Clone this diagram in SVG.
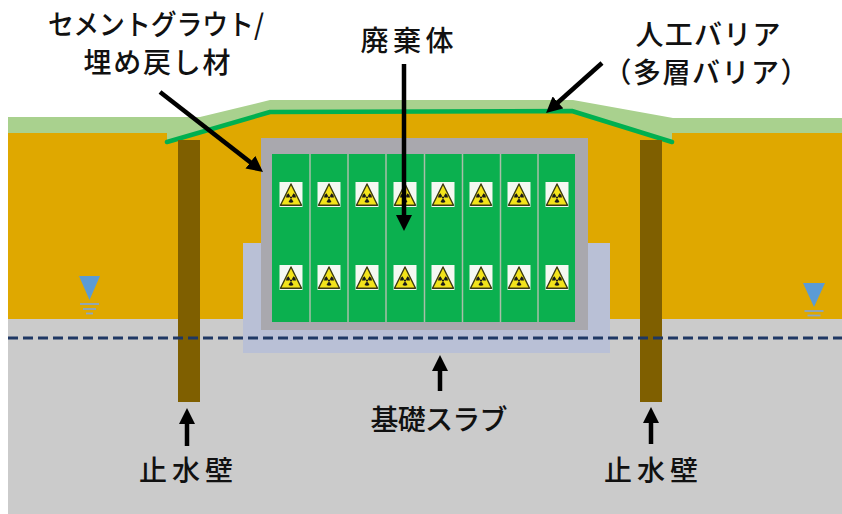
<svg xmlns="http://www.w3.org/2000/svg" xmlns:xlink="http://www.w3.org/1999/xlink" width="842" height="514" viewBox="0 0 842 514">
  <style>
    .lbl { font-family: "Noto Sans CJK JP", "Noto Sans", sans-serif; font-size: 28px; font-weight: 500; fill: #111; text-anchor: middle; }
    .wall { fill: #7F5F00; }
    .slot { stroke: #A9BFA9; stroke-width: 1.5; }
    .wl-tri { fill: #5B9BD5; }
    .wl-line { stroke: #8AA6C4; stroke-width: 1.8; }
    .arrow { stroke: #000; stroke-width: 4.5; fill: none; marker-end: url(#head); }
  </style>
  <defs>
    <marker id="head" markerUnits="userSpaceOnUse" markerWidth="16" markerHeight="16" refX="8" refY="8" orient="auto">
      <path d="M0,0 L16,8 L0,16 Z" fill="#000"/>
    </marker>
    <!-- radiation warning sign: white tile, yellow triangle, trefoil -->
    <path id="blade" d="M0.8,1.39 L2.5,4.33 A5,5 0 0 1 -2.5,4.33 L-0.8,1.39 A1.6,1.6 0 0 0 0.8,1.39 Z" fill="#1a1a1a"/>
    <symbol id="rad" viewBox="0 0 23 25" width="23" height="25" overflow="visible">
      <rect x="0" y="0" width="23" height="25" fill="#F4F8F2"/>
      <path d="M11.5,2 L22,23.2 L1,23.2 Z" fill="#F2E31B" stroke="#3A3A10" stroke-width="1.4" stroke-linejoin="round"/>
      <g transform="translate(11.5,15.6)">
        <circle r="1.1" fill="#1a1a1a"/>
        <use xlink:href="#blade"/>
        <use xlink:href="#blade" transform="rotate(120)"/>
        <use xlink:href="#blade" transform="rotate(240)"/>
      </g>
    </symbol>
  </defs>

  <!-- ground layers -->
  <g id="ground">
    <rect x="8" y="300" width="834" height="214" fill="#CBCBCB"/>
    <polygon points="8,133 167,133 270,104 572,104 672,133 842,133 842,319 8,319" fill="#DFA800"/>
    <polygon points="8,117 200,117 270,100 573,100 673,118 842,118 842,133 672,133 672,142 572,111 270,111 167,142 167,133 8,133" fill="#A9D18E"/>
  </g>

  <!-- base slab -->
  <g id="slab">
    <rect x="243" y="243" width="367" height="110" fill="#B9C0D6"/>
  </g>

  <!-- cement grout / backfill with waste packages -->
  <g id="grout">
    <rect x="261" y="138" width="327" height="192" fill="#A9A8AE"/>
  </g>
  <g id="waste">
    <rect x="272" y="154" width="303" height="168" fill="#0BB04F"/>
    <g class="slot">
      <line x1="310" y1="154" x2="310" y2="322"/>
      <line x1="348" y1="154" x2="348" y2="322"/>
      <line x1="386" y1="154" x2="386" y2="322"/>
      <line x1="424.5" y1="154" x2="424.5" y2="322"/>
      <line x1="462.5" y1="154" x2="462.5" y2="322"/>
      <line x1="500.5" y1="154" x2="500.5" y2="322"/>
      <line x1="538" y1="154" x2="538" y2="322"/>
    </g>
    <use xlink:href="#rad" x="279.5" y="182"/>
    <use xlink:href="#rad" x="317.5" y="182"/>
    <use xlink:href="#rad" x="355.5" y="182"/>
    <use xlink:href="#rad" x="393.5" y="182"/>
    <use xlink:href="#rad" x="431.5" y="182"/>
    <use xlink:href="#rad" x="469.5" y="182"/>
    <use xlink:href="#rad" x="507.5" y="182"/>
    <use xlink:href="#rad" x="545.5" y="182"/>
    <use xlink:href="#rad" x="279.5" y="265"/>
    <use xlink:href="#rad" x="317.5" y="265"/>
    <use xlink:href="#rad" x="355.5" y="265"/>
    <use xlink:href="#rad" x="393.5" y="265"/>
    <use xlink:href="#rad" x="431.5" y="265"/>
    <use xlink:href="#rad" x="469.5" y="265"/>
    <use xlink:href="#rad" x="507.5" y="265"/>
    <use xlink:href="#rad" x="545.5" y="265"/>
  </g>

  <!-- engineered barrier cover line -->
  <g id="barrier">
    <polyline points="167,142 270,112 572,111 672,142" fill="none" stroke="#00B050" stroke-width="4.5" stroke-linecap="round" stroke-linejoin="round"/>
  </g>

  <!-- cut-off walls -->
  <g id="wall-left"><rect class="wall" x="178" y="140" width="22" height="262"/></g>
  <g id="wall-right"><rect class="wall" x="640" y="140" width="22" height="262"/></g>

  <!-- groundwater level -->
  <g id="groundwater">
    <line x1="8" y1="338" x2="842" y2="338" stroke="#1F3864" stroke-width="3" stroke-dasharray="10 5"/>
    <polygon class="wl-tri" points="79,276 100,276 89.5,300"/>
    <g class="wl-line">
      <line x1="80" y1="304" x2="99" y2="304"/>
      <line x1="83" y1="309" x2="96" y2="309"/>
      <line x1="86" y1="313.5" x2="93" y2="313.5"/>
    </g>
    <polygon class="wl-tri" points="803,283 825,283 814,307"/>
    <g class="wl-line">
      <line x1="804.5" y1="311" x2="823.5" y2="311"/>
      <line x1="807.5" y1="315.5" x2="820.5" y2="315.5"/>
    </g>
  </g>

  <!-- leader arrows -->
  <g id="connectors">
    <line class="arrow" x1="160" y1="92" x2="256.7" y2="167.1"/>
    <line class="arrow" x1="404" y1="64" x2="404" y2="223"/>
    <line class="arrow" x1="602" y1="63" x2="552" y2="107.7"/>
    <line class="arrow" x1="440" y1="391" x2="440" y2="363"/>
    <line class="arrow" x1="187" y1="446" x2="187" y2="416"/>
    <line class="arrow" x1="651" y1="444" x2="651" y2="415"/>
  </g>

  <!-- labels -->
  <g id="label-grout">
    <text class="lbl" x="156" y="35" textLength="216" lengthAdjust="spacingAndGlyphs">セメントグラウト/</text>
    <text class="lbl" x="157" y="73" textLength="147">埋め戻し材</text>
  </g>
  <g id="label-waste"><text class="lbl" x="407" y="51" textLength="93">廃棄体</text></g>
  <g id="label-barrier">
    <text class="lbl" x="708" y="45" textLength="145">人工バリア</text>
    <text class="lbl" x="706" y="83" textLength="205">（多層バリア）</text>
  </g>
  <g id="label-slab"><text class="lbl" x="439" y="430" textLength="137">基礎スラブ</text></g>
  <g id="label-wall-left"><text class="lbl" x="186" y="481" textLength="94">止水壁</text></g>
  <g id="label-wall-right"><text class="lbl" x="651" y="481" textLength="94">止水壁</text></g>
</svg>
